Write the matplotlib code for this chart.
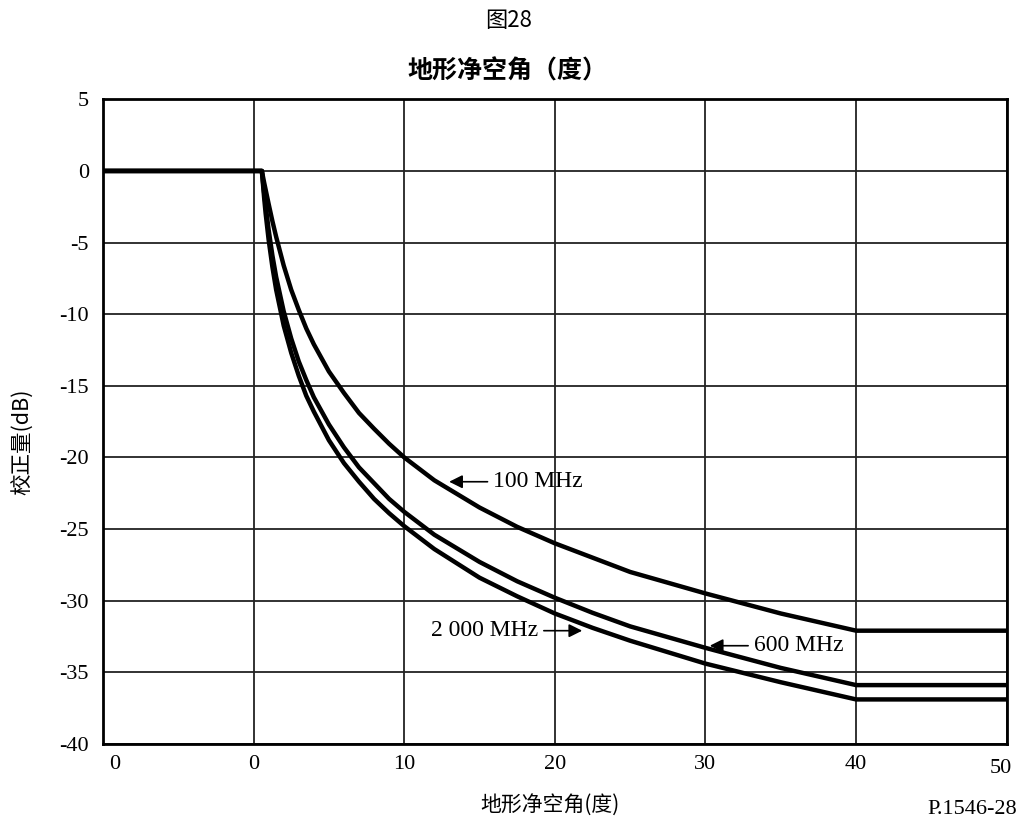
import numpy as np
import matplotlib
matplotlib.use('Agg')
from matplotlib import pyplot as plt

plt.rcParams['font.family'] = ['Liberation Serif', 'Noto Sans CJK SC', 'DejaVu Sans']

# terrain clearance angle (deg) and correction (dB)
angle = [-10, 0.55, 0.7, 0.8, 1, 1.25, 1.5, 2, 2.5, 3, 3.5, 4, 5, 6, 7, 8, 9, 10, 12,
         15, 17.5, 20, 22.5, 25, 30, 35, 40, 50]
corr_100 = [0, 0, -0.8, -1.3, -2.3, -3.5, -4.6, -6.6, -8.3, -9.7, -11.0, -12.1, -14.0,
            -15.5, -16.9, -18.0, -19.05, -20.0, -21.6, -23.5, -24.85, -26.0, -27.0,
            -28.0, -29.5, -30.9, -32.1, -32.1]
corr_600 = [0, 0, -1.5, -2.4, -4.1, -5.9, -7.4, -9.8, -11.7, -13.3, -14.6, -15.8, -17.7,
            -19.3, -20.7, -21.8, -22.9, -23.8, -25.4, -27.3, -28.65, -29.8, -30.85,
            -31.8, -33.3, -34.7, -35.9, -35.9]
corr_2000 = [0, 0, -1.85, -2.95, -4.8, -6.7, -8.3, -10.8, -12.7, -14.3, -15.7, -16.8,
             -18.8, -20.4, -21.7, -22.9, -23.9, -24.8, -26.4, -28.4, -29.7, -30.9,
             -31.9, -32.8, -34.4, -35.7, -36.9, -36.9]

xticks = [-10, 0, 10, 20, 30, 40, 50]
xlabels = ['', '0', '10', '20', '30', '40', '']
yticks = [5, 0, -5, -10, -15, -20, -25, -30, -35, -40]

cjk = ['Noto Sans CJK SC', 'Liberation Serif']

fig = plt.figure(figsize=(10.19, 8.21), dpi=100)
ax = fig.add_axes([0.101, 0.094, 0.887, 0.785])

for c in [corr_100, corr_600, corr_2000]:
    ax.plot(angle, c, color='black', lw=3.2, solid_capstyle='butt', zorder=3)

ax.set_xlim(-10, 50)
ax.set_ylim(-40, 5)
ax.set_xticks(xticks)
ax.set_xticklabels(xlabels, fontsize=16)
ax.set_yticks(yticks)
ax.set_yticklabels([str(t) for t in yticks], fontsize=16)
ax.tick_params(axis='y', length=0, pad=10)
ax.tick_params(axis='x', length=0, pad=8)
ax.grid(True, color='#222222', lw=1.3)
for s in ax.spines.values():
    s.set_linewidth(2.0)
# first and last x labels sit off their gridlines in the original
ax.text(-9.2, -41.45, '0', ha='center', va='center', fontsize=16)
ax.text(49.6, -41.7, '50', ha='center', va='center', fontsize=16)

arrow = dict(arrowstyle='-|>', color='black', lw=1.2, mutation_scale=20)
ax.annotate('100 MHz', xy=(12.8, -21.7), xytext=(15.9, -21.7), fontsize=17,
            va='center', ha='left', arrowprops=arrow)
ax.annotate('600 MHz', xy=(30.1, -33.15), xytext=(33.2, -33.15), fontsize=17,
            va='center', ha='left', arrowprops=arrow)
ax.annotate('2 000 MHz', xy=(22.0, -32.1), xytext=(18.9, -32.1), fontsize=17,
            va='center', ha='right', arrowprops=arrow)

fig.text(0.023, 0.462, '校正量(dB)', fontsize=15.5, rotation=90, ha='center', va='center', family=cjk)
fig.text(0.54, 0.019, '地形净空角(度)', fontsize=15, ha='center', va='center', family=cjk)
fig.text(0.499, 0.975, '图28', fontsize=16, ha='center', va='center', family=cjk)
fig.text(0.498, 0.913, '地形净空角（度）', fontsize=18, ha='center', va='center',
         fontweight='bold', family=cjk)
fig.text(0.998, 0.003, 'P.1546-28', fontsize=16, ha='right', va='bottom')

fig.savefig('out.png', dpi=100)
